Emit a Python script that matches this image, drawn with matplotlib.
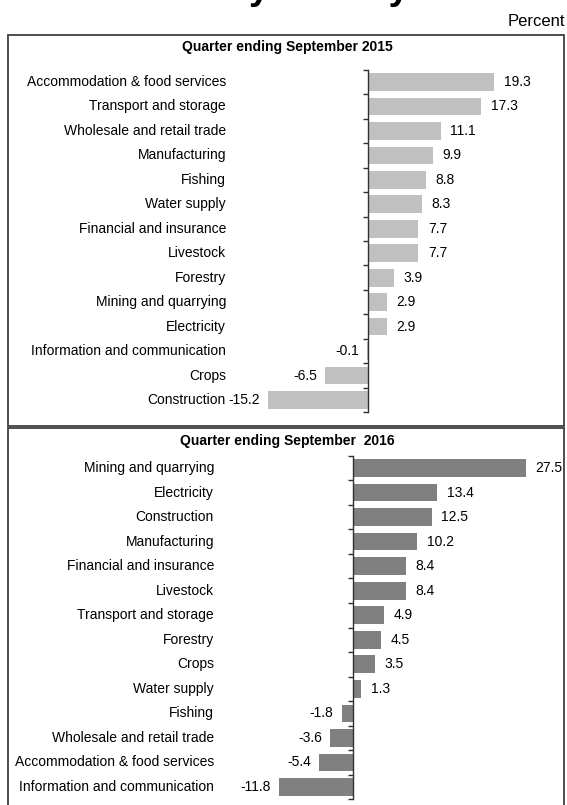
import matplotlib
matplotlib.use("Agg")
import matplotlib.pyplot as plt
from matplotlib.patches import Rectangle
from matplotlib.transforms import blended_transform_factory

plt.rcParams['font.family'] = ['Liberation Sans', 'DejaVu Sans']

# ---- data ----
cats_2015 = ["Accommodation & food services", "Transport and storage",
             "Wholesale and retail trade", "Manufacturing", "Fishing",
             "Water supply", "Financial and insurance", "Livestock", "Forestry",
             "Mining and quarrying", "Electricity",
             "Information and communication", "Crops", "Construction"]
vals_2015 = [19.3, 17.3, 11.1, 9.9, 8.8, 8.3, 7.7, 7.7, 3.9, 2.9, 2.9, -0.1, -6.5, -15.2]

cats_2016 = ["Mining and quarrying", "Electricity", "Construction", "Manufacturing",
             "Financial and insurance", "Livestock", "Transport and storage",
             "Forestry", "Crops", "Water supply", "Fishing",
             "Wholesale and retail trade", "Accommodation & food services",
             "Information and communication"]
vals_2016 = [27.5, 13.4, 12.5, 10.2, 8.4, 8.4, 4.9, 4.5, 3.5, 1.3, -1.8, -3.6, -5.4, -11.8]

title_2015 = "Quarter ending September 2015"
title_2016 = "Quarter ending September  2016"
unit_label = "Percent"
main_title = "Growth rates by activity"

W, H = 567, 805
fig = plt.figure(figsize=(W / 100, H / 100), dpi=100)


def px_axes(left, top, right, bottom):
    return fig.add_axes([left / W, 1 - bottom / H, (right - left) / W, (bottom - top) / H])


def panel(ax, cats, vals, color, xlim, label_x):
    n = len(cats)
    pos = list(range(n))
    ax.barh(pos, vals, height=0.72, color=color, zorder=2)
    ax.set_xlim(*xlim)
    ax.set_ylim(n - 0.5, -0.5)
    for s in ("top", "right", "bottom"):
        ax.spines[s].set_visible(False)
    ax.spines["left"].set_position(("data", 0))
    ax.spines["left"].set_color("#303030")
    ax.spines["left"].set_linewidth(1.0)
    ax.set_xticks([])
    ax.set_yticks([])
    ax.set_yticks([p - 0.5 for p in pos] + [n - 0.5], minor=True)
    ax.tick_params(axis="y", which="minor", length=3.5, width=1.0,
                   color="#303030", direction="out")
    ax.patch.set_alpha(0)
    tr = blended_transform_factory(fig.transFigure, ax.transData)
    for p, c in zip(pos, cats):
        ax.text(label_x / W, p, c, transform=tr, ha="right", va="center",
                fontsize=10, color="black")
    for p, v in zip(pos, vals):
        if v >= 0:
            ax.annotate(f"{v:.1f}", (v, p), xytext=(6.8, 0), textcoords="offset points",
                        ha="left", va="center", fontsize=10)
        else:
            ax.annotate(f"{v:.1f}", (min(v, 0), p), xytext=(-5.8, 0),
                        textcoords="offset points", ha="right", va="center", fontsize=10)


ax1 = px_axes(368 - 17 * 6.55, 69.75, 368 + 29 * 6.55, 412.25)
panel(ax1, cats_2015, vals_2015, "#C0C0C0", (-17, 29), 226)

ax2 = px_axes(353 - 15 * 6.3, 455.7, 353 + 30 * 6.3, 799.3)
panel(ax2, cats_2016, vals_2016, "#808080", (-15, 30), 214)

# boxes
fig.add_artist(Rectangle((8 / W, 1 - 426 / H), (564 - 8) / W, (426 - 35) / H,
                         transform=fig.transFigure, fill=False,
                         edgecolor="#404040", linewidth=1.3))
fig.add_artist(Rectangle((8 / W, 1 - 812 / H), (564 - 8) / W, (812 - 428.5) / H,
                         transform=fig.transFigure, fill=False,
                         edgecolor="#404040", linewidth=1.3))

fig.text(287 / W, 1 - 47 / H, title_2015, ha="center", va="center",
         fontsize=10, fontweight="bold")
fig.text(287 / W, 1 - 441 / H, title_2016, ha="center", va="center",
         fontsize=10, fontweight="bold")
fig.text(565 / W, 1 - 22 / H, unit_label, ha="right", va="center", fontsize=12)

# main title: in the reference it lies above the image, only the descenders show
fig.text(409 / W, 1 + 1 / H, main_title, ha="right", va="baseline",
         fontsize=27, fontweight="bold")

fig.savefig("out.png", dpi=100)
